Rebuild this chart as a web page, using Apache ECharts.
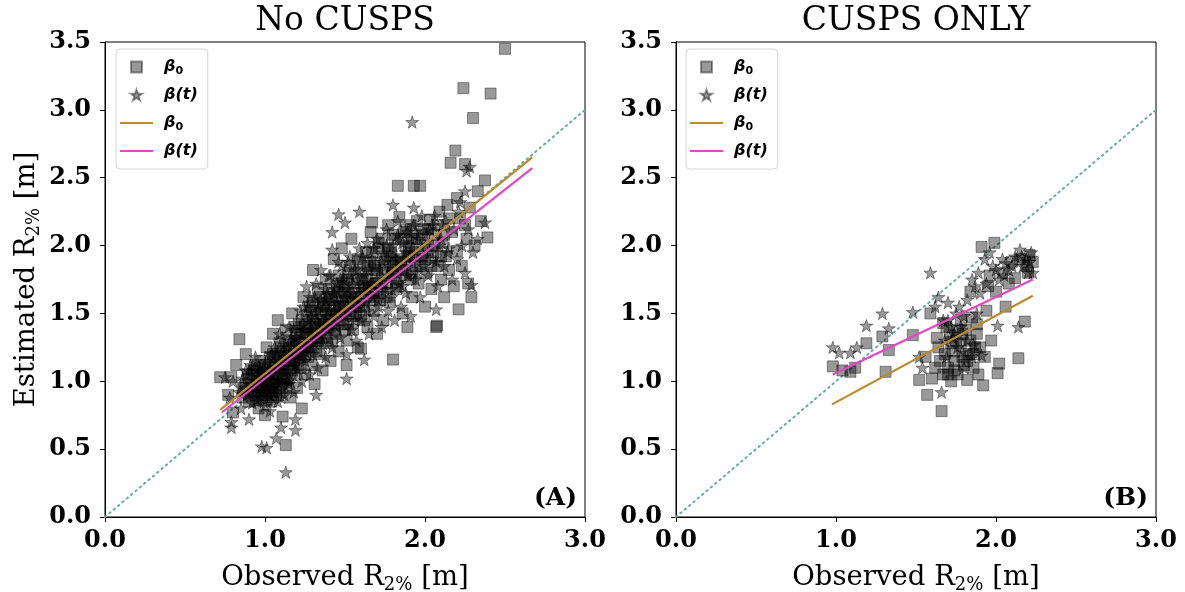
<!DOCTYPE html>
<html>
<head>
<meta charset="utf-8">
<script src="https://cdn.jsdelivr.net/npm/echarts@6/dist/echarts.min.js"></script>
<style>
  html, body { margin: 0; padding: 0; background: #fff; }
  #chart { width: 1185px; height: 592px; }
</style>
</head>
<body>
<div id="chart"></div>
<script>
// ---- Panel A (no cusps): observed vs estimated R2% [m] ----
const noCuspsBeta0 = [
  [0.72,1.03],[0.79,1.03],[0.84,1.31],[0.80,0.77],[0.77,0.90],[0.82,1.12],[0.86,0.95],[0.88,1.20],[0.90,0.85],[0.92,1.05],
  [0.93,0.92],[0.95,1.00],[0.96,0.80],[0.97,1.15],[0.98,0.88],[1.00,1.02],[1.00,0.75],[1.01,1.25],[1.02,0.95],[1.03,1.10],
  [1.04,0.85],[1.05,1.35],[1.05,0.98],[1.06,1.18],[1.07,0.90],[1.08,1.05],[1.08,1.45],[1.09,1.28],[1.10,0.98],[1.11,0.74],
  [1.12,1.15],[1.13,0.53],[1.13,1.38],[1.14,1.02],[1.15,1.22],[1.16,0.88],[1.17,1.50],[1.18,1.10],[1.19,1.30],[1.20,0.95],
  [1.21,1.42],[1.22,1.18],[1.23,0.80],[1.24,1.62],[1.25,1.05],[1.26,1.35],[1.27,1.25],[1.28,1.55],[1.29,1.12],[1.30,1.45],
  [1.30,1.82],[1.31,0.98],[1.32,1.30],[1.33,1.68],[1.34,1.20],[1.35,1.50],[1.36,1.08],[1.37,1.40],[1.38,1.75],[1.39,1.28],
  [1.40,1.60],[1.41,1.15],[1.42,1.45],[1.43,1.90],[1.44,1.35],[1.45,1.70],[1.46,1.22],[1.47,1.55],[1.48,1.98],[1.49,1.42],
  [1.50,1.65],[1.51,1.30],[1.51,1.12],[1.52,1.80],[1.53,1.50],[1.54,2.05],[1.55,1.38],[1.56,1.72],[1.57,1.58],[1.58,1.25],
  [1.59,1.88],[1.60,1.24],[1.60,1.48],[1.62,1.70],[1.63,1.95],[1.64,1.40],[1.65,1.60],[1.66,2.10],[1.67,2.17],[1.68,1.52],
  [1.69,1.82],[1.70,1.35],[1.71,1.98],[1.72,1.65],[1.73,2.05],[1.74,1.45],[1.75,1.88],[1.76,1.72],[1.77,2.15],[1.78,1.58],
  [1.79,1.95],[1.80,1.16],[1.80,1.80],[1.81,2.05],[1.82,1.68],[1.83,2.44],[1.84,2.21],[1.85,1.90],[1.86,1.50],[1.87,2.10],
  [1.88,1.78],[1.89,1.40],[1.90,1.98],[1.91,2.15],[1.92,1.62],[1.93,2.44],[1.94,1.85],[1.95,2.05],[1.96,1.72],[1.97,2.44],
  [1.98,1.92],[1.99,2.12],[2.00,1.55],[2.01,1.80],[2.02,2.00],[2.03,2.19],[2.04,1.68],[2.05,1.95],[2.06,2.08],[2.07,1.40],
  [2.075,1.41],[2.08,1.85],[2.09,2.25],[2.10,1.75],[2.11,2.02],[2.12,1.62],[2.13,1.92],[2.14,2.30],[2.15,1.82],[2.16,2.61],
  [2.17,2.10],[2.18,1.70],[2.19,2.70],[2.20,1.96],[2.21,1.53],[2.22,2.20],[2.23,1.85],[2.24,3.16],[2.25,2.60],[2.26,2.05],
  [2.27,1.72],[2.28,2.28],[2.29,1.62],[2.30,2.94],[2.31,2.00],[2.33,2.40],[2.375,2.48],[2.39,2.06],[2.41,3.12],[2.50,3.45],
  [2.20,2.35],[2.25,2.15],[2.35,2.18],
  [0.95,1.10],[1.00,0.90],[1.05,1.08],[1.10,1.12],[1.15,1.15],[1.20,1.20],[1.25,1.28],[1.30,1.32],[1.35,1.38],[1.40,1.42],
  [1.45,1.50],[1.50,1.52],[1.55,1.58],[1.60,1.62],[1.65,1.70],[1.70,1.72],[1.75,1.80],[1.80,1.85],[1.85,1.88],[1.90,1.92],
  [0.98,1.00],[1.03,0.98],[1.08,1.18],[1.12,1.02],[1.18,1.28],[1.22,1.10],[1.28,1.40],[1.32,1.22],[1.38,1.52],[1.42,1.30],
  [1.48,1.62],[1.52,1.42],[1.58,1.75],[1.62,1.55],[1.68,1.85],[1.72,1.60],[1.78,1.92],[1.82,1.75],[1.88,2.00],[1.92,1.80],
  [0.86,0.88],[0.88,0.98],[0.90,1.02],[0.91,0.90],[0.93,1.08],[0.94,0.86],[0.96,0.96],[0.97,1.04],[0.99,0.93],[1.00,1.12],
  [1.01,0.86],[1.02,1.05],[1.04,0.95],[1.05,1.20],[1.06,1.00],[1.07,1.14],[1.09,0.92],[1.10,1.25],[1.11,1.06],[1.13,0.96],
  [1.14,1.18],[1.15,1.30],[1.17,1.08],[1.18,1.20],[1.19,1.40],[1.21,1.12],[1.22,1.30],[1.23,1.45],[1.25,1.20],[1.26,1.48],
  [1.27,1.36],[1.29,1.25],[1.30,1.58],[1.31,1.40],[1.33,1.30],[1.34,1.62],[1.35,1.45],[1.37,1.55],[1.38,1.32],[1.40,1.68],
  [1.41,1.50],[1.43,1.38],[1.44,1.60],[1.46,1.78],[1.47,1.45],[1.49,1.70],[1.50,1.38],[1.52,1.60],[1.53,1.85],[1.55,1.48],
  [1.56,1.65],[1.58,1.90],[1.59,1.55],[1.61,1.75],[1.62,1.45],[1.64,1.85],[1.65,1.68],[1.67,1.95],[1.68,1.62],[1.70,1.80],
  [1.71,2.02],[1.73,1.70],[1.74,1.90],[1.76,1.62],[1.77,1.98],[1.79,1.78],[1.80,2.08],[1.82,1.88],[1.83,1.70],[1.85,2.05],
  [1.86,1.82],[1.88,2.12],[1.89,1.92],[1.91,1.75],[1.92,2.05],[1.94,1.95],[1.95,2.18],[1.97,1.85],[1.98,2.08],[2.00,1.90],
  [2.02,2.12],[2.04,1.85],[2.06,2.00],[2.08,2.15],[2.10,1.92],[2.12,2.08],[2.15,2.20],
  [0.87,0.93],[0.89,1.05],[0.92,0.96],[0.94,1.12],[0.96,0.90],[0.99,1.06],[1.01,0.98],[1.03,1.18],[1.05,0.88],[1.07,1.02],
  [1.09,1.10],[1.11,0.95],[1.13,1.24],[1.16,1.06],[1.18,1.15],[1.20,1.35],[1.23,1.24],[1.25,1.40],[1.27,1.18],[1.29,1.52],
  [1.32,1.42],[1.34,1.32],[1.36,1.58],[1.39,1.40],[1.41,1.62],[1.44,1.48],[1.46,1.66],[1.49,1.55],[1.51,1.75],[1.54,1.62],
  [1.57,1.50],[1.60,1.80],[1.63,1.65],[1.66,1.88],[1.69,1.72]
];
const noCuspsBetaT = [
  [1.13,0.33],[0.98,0.52],[1.01,0.51],[1.07,0.58],[1.19,0.72],[1.19,0.64],[1.10,0.66],[0.79,0.66],[0.79,0.70],[1.32,0.90],
  [1.51,1.02],[1.62,1.16],[1.92,2.91],[1.46,2.23],[1.42,2.10],[1.42,1.97],[1.50,2.17],[1.59,2.25],[1.80,2.30],[1.93,2.28],
  [2.375,2.17],[2.29,1.71],[2.07,1.53],[2.25,2.40],[2.26,2.55],[2.28,2.58],[2.22,2.32],
  [0.75,1.03],[0.80,1.00],[0.78,0.88],[0.85,0.80],[0.88,1.08],[0.90,0.72],[0.92,0.98],[0.94,1.18],[0.95,0.85],[0.97,0.95],
  [0.99,1.10],[1.00,0.82],[1.02,1.02],[1.03,0.78],[1.04,1.20],[1.06,0.92],[1.07,1.10],[1.08,0.85],[1.09,1.35],[1.10,1.00],
  [1.11,1.22],[1.12,0.90],[1.14,1.08],[1.15,1.40],[1.16,1.00],[1.17,1.18],[1.18,0.92],[1.19,1.32],[1.20,1.05],
  [1.21,1.25],[1.22,1.52],[1.23,1.00],[1.24,1.38],[1.25,1.15],[1.26,1.70],[1.27,1.30],[1.28,1.05],[1.29,1.48],[1.30,1.20],
  [1.31,1.62],[1.32,1.35],[1.33,1.10],[1.34,1.55],[1.35,1.82],[1.36,1.28],[1.37,1.45],[1.38,1.18],[1.39,1.65],[1.40,1.38],
  [1.41,1.78],[1.42,1.25],[1.43,1.52],[1.44,1.68],[1.45,1.40],[1.46,1.88],[1.47,1.32],[1.48,1.58],[1.49,1.75],[1.50,1.48],
  [1.51,1.20],[1.52,1.68],[1.53,1.92],[1.54,1.38],[1.55,1.55],[1.56,1.82],[1.57,1.30],[1.58,1.65],[1.59,1.98],[1.60,1.45],
  [1.62,1.78],[1.63,1.58],[1.64,2.02],[1.65,1.35],[1.66,1.72],[1.67,1.90],[1.68,1.48],[1.69,1.65],[1.70,2.05],[1.71,1.55],
  [1.72,1.82],[1.73,1.40],[1.74,1.95],[1.75,1.68],[1.76,2.12],[1.77,1.52],[1.78,1.85],[1.79,1.62],[1.80,2.00],[1.81,1.45],
  [1.82,1.90],[1.83,2.18],[1.84,1.72],[1.85,1.55],[1.86,2.02],[1.87,1.82],[1.88,1.65],[1.89,2.10],[1.90,1.88],[1.91,1.48],
  [1.92,1.98],[1.93,2.15],[1.94,1.75],[1.95,1.92],[1.96,2.05],[1.97,1.62],[1.98,2.22],[1.99,1.85],[2.00,2.00],[2.02,1.78],
  [2.03,2.12],[2.05,1.90],[2.06,2.22],[2.08,1.70],[2.10,2.05],[2.12,1.85],[2.13,2.18],[2.15,1.98],[2.17,1.75],[2.18,2.12],
  [2.20,1.90],[2.21,2.25],[2.23,2.00],[2.25,1.80],[2.27,2.12],[2.30,1.95],[2.33,2.05],
  [0.84,0.92],[0.86,1.02],[0.89,0.90],[0.91,1.12],[0.92,0.84],[0.94,1.00],[0.96,1.10],[0.97,0.88],[0.98,1.05],[1.00,0.96],
  [1.01,1.15],[1.03,0.90],[1.04,1.06],[1.05,0.95],[1.06,1.25],[1.08,1.00],[1.09,1.15],[1.10,0.88],[1.11,1.32],[1.12,1.08],
  [1.14,1.25],[1.15,0.98],[1.16,1.20],[1.18,1.38],[1.19,1.12],[1.20,1.28],[1.22,1.40],[1.23,1.18],[1.24,1.55],[1.26,1.25],
  [1.27,1.45],[1.28,1.62],[1.30,1.35],[1.31,1.50],[1.32,1.72],[1.34,1.42],[1.35,1.60],[1.36,1.35],[1.38,1.68],[1.39,1.48],
  [1.40,1.78],[1.42,1.58],[1.43,1.42],[1.45,1.72],[1.46,1.55],[1.48,1.85],[1.49,1.50],[1.50,1.70],[1.52,1.52],[1.53,1.78],
  [1.55,1.65],[1.56,1.45],[1.58,1.82],[1.59,1.60],[1.61,1.92],[1.62,1.68],[1.64,1.52],[1.65,1.82],[1.67,1.62],[1.68,1.98],
  [1.70,1.75],[1.71,1.60],[1.73,1.88],[1.74,1.72],[1.76,2.00],[1.77,1.78],[1.79,1.68],[1.80,1.92],[1.82,1.80],[1.83,2.08],
  [1.85,1.85],[1.86,1.70],[1.88,1.95],[1.89,1.78],[1.91,2.05],[1.92,1.88],[1.94,2.10],[1.95,1.80],[1.97,2.00],[1.99,1.92],
  [2.01,2.08],[2.03,1.95],[2.05,2.15],[2.07,1.88],[2.09,2.00],[2.11,2.15],[2.14,1.95],
  [0.88,0.95],[0.90,1.08],[0.93,0.92],[0.95,1.05],[0.98,0.92],[1.00,1.08],[1.02,0.92],[1.04,1.12],[1.06,1.05],[1.08,1.22],
  [1.10,1.08],[1.12,1.18],[1.14,1.00],[1.16,1.30],[1.18,1.15],[1.21,1.20],[1.23,1.35],[1.25,1.22],[1.27,1.55],[1.29,1.38],
  [1.31,1.28],[1.33,1.52],[1.36,1.45],[1.38,1.60],[1.40,1.52],[1.43,1.65],[1.45,1.58],[1.47,1.75],[1.50,1.62],[1.52,1.88],
  [1.55,1.72],[1.58,1.55],[1.61,1.70],[1.64,1.78],[1.67,1.72]
];
// Linear fits (endpoints of the fitted lines)
const noCuspsFitBeta0 = [[0.72,0.79],[2.67,2.65]];
const noCuspsFitBetaT = [[0.73,0.77],[2.67,2.57]];

// ---- Panel B (cusps only) ----
const cuspsBeta0 = [
  [0.98,1.11],[1.04,1.08],[1.09,1.07],[1.12,1.10],[1.19,1.28],[1.29,1.33],[1.31,1.07],[1.33,1.23],[1.48,1.34],[1.52,1.01],
  [1.56,1.18],[1.57,0.90],[1.59,1.50],[1.62,1.10],[1.64,1.25],[1.66,0.78],[1.67,1.43],[1.69,1.40],[1.70,1.10],[1.71,1.34],
  [1.72,1.00],[1.74,1.15],[1.75,1.30],[1.76,1.05],[1.78,1.45],[1.78,1.28],[1.79,1.18],[1.80,1.12],[1.82,1.01],[1.83,1.20],
  [1.84,1.66],[1.85,1.47],[1.86,1.10],[1.87,1.25],[1.88,1.35],[1.89,1.05],[1.91,1.99],[1.92,0.97],[1.93,1.18],[1.94,1.52],
  [1.95,1.70],[1.97,1.30],[1.99,2.02],[2.00,1.66],[2.01,1.06],[2.02,1.13],[2.04,1.80],[2.06,1.55],[2.08,1.72],[2.12,1.76],
  [2.14,1.17],[2.15,1.90],[2.18,1.44],[2.19,1.85],[2.21,1.93],[2.23,1.88],[1.60,1.02],[1.65,1.15],[1.73,1.22],[1.81,1.38],
  [1.68,1.20],[1.72,1.28],[1.76,1.38],[1.79,1.35],[1.84,1.30],[1.86,1.20],[1.70,1.05],[1.74,1.08],[1.82,1.15],[1.88,1.42],
  [1.63,1.32],[1.67,1.05],[1.90,1.25],[2.10,1.88],[2.20,1.80],[1.96,1.78]
];
const cuspsBetaT = [
  [0.98,1.25],[1.02,1.21],[1.09,1.21],[1.13,1.25],[1.19,1.41],[1.29,1.50],[1.33,1.39],[1.48,1.51],[1.52,1.18],[1.54,1.10],
  [1.59,1.80],[1.62,1.55],[1.64,1.62],[1.66,0.92],[1.67,1.45],[1.70,1.58],[1.72,1.40],[1.74,1.35],[1.75,1.50],[1.79,1.22],
  [1.80,1.10],[1.82,1.60],[1.85,1.75],[1.86,1.27],[1.87,1.70],[1.89,1.80],[1.91,1.19],[1.93,1.90],[1.96,1.95],[1.98,1.85],
  [2.01,1.41],[2.02,1.75],[2.04,1.90],[2.06,1.87],[2.08,1.82],[2.12,1.92],[2.14,1.40],[2.15,1.97],[2.17,1.85],[2.19,1.90],
  [2.20,1.80],[2.23,1.80],[2.22,1.95],[1.68,1.30],[1.77,1.55],
  [1.70,1.45],[1.73,1.32],[1.76,1.25],[1.78,1.40],[1.82,1.30],[1.85,1.18],[1.88,1.50],[1.90,1.65],[1.94,1.72],[2.00,1.82],
  [2.10,1.85],[2.16,1.92],[2.21,1.88],[1.69,1.18],[1.80,1.48],[2.05,1.78]
];
const cuspsFitBeta0 = [[0.975,0.83],[2.23,1.63]];
const cuspsFitBetaT = [[0.98,1.05],[2.23,1.75]];

// 1:1 reference line
const oneToOne = [[0, 0], [3, 3]];

const panelTitles = ['No CUSPS', 'CUSPS ONLY'];
const panelTags = ['(A)', '(B)'];
const xTicks = { min: 0, max: 3, interval: 1 };
const yTicks = { min: 0, max: 3.5, interval: 0.5 };

const GOLD = '#bb8a2c';
const PINK = '#e347c4';
const DOT = '#6aaba6';
const STAR = 'path://M50,2 L61.5,36 L97,36 L68.5,57.5 L79,92 L50,71 L21,92 L31.5,57.5 L3,36 L38.5,36 Z';
const SQUARE = 'path://M0,0 L10,0 L10,10 L0,10 Z';
const DASH = 'path://M0,0 L33,0 L33,2.2 L0,2.2 Z';
const SERIF = '"DejaVu Serif", serif';
const SANS = '"DejaVu Sans", sans-serif';

const grids = [
  { left: 105, top: 42, width: 480, height: 475 },
  { left: 676, top: 42, width: 480, height: 475 }
];

const legendLabels = {
  sq: '{b|β}{s|0}',
  st: '{b|β(t)}',
  l0: '{b|β}{s|0}',
  lt: '{b|β(t)}'
};

function axisCommon(t, margin) {
  return {
    type: 'value', min: t.min, max: t.max, interval: t.interval,
    axisLine: { show: true, onZero: false, lineStyle: { color: '#000', width: 1 } },
    axisTick: { show: true, inside: false, length: 5, lineStyle: { color: '#000', width: 1 } },
    splitLine: { show: false },
    axisLabel: {
      margin, color: '#000', fontFamily: SERIF, fontWeight: 'bold', fontSize: 24,
      formatter: v => v.toFixed(1)
    },
    nameLocation: 'middle',
    nameTextStyle: {
      fontFamily: SERIF, fontSize: 27.5, color: '#000', lineHeight: 32,
      rich: { s: { fontFamily: SERIF, fontSize: 18, color: '#000', lineHeight: 18, padding: [14, 0, 0, 0] } }
    }
  };
}

const xAxes = [0, 1].map(i => Object.assign(axisCommon(xTicks, 12), {
  gridIndex: i, name: 'Observed R{s|2%} [m]', nameGap: 45
}));
const yAxes = [0, 1].map(i => Object.assign(axisCommon(yTicks, 14), {
  gridIndex: i, name: i === 0 ? 'Estimated R{s|2%} [m]' : '', nameGap: 62
}));

function scatter(name, data, idx, symbol, size) {
  return {
    type: 'scatter', name, data, xAxisIndex: idx, yAxisIndex: idx,
    symbol, symbolSize: size, symbolKeepAspect: true, z: 3,
    itemStyle: { color: 'rgba(0,0,0,0.5)', borderColor: 'rgba(0,0,0,0.5)', borderWidth: 1 },
    emphasis: { disabled: true }
  };
}
function fitLine(name, data, idx, color) {
  return {
    type: 'line', name, data, xAxisIndex: idx, yAxisIndex: idx,
    symbol: 'none', z: 5, lineStyle: { color, width: 2.2 }, itemStyle: { color },
    emphasis: { disabled: true }
  };
}
function refLine(idx) {
  return {
    type: 'line', name: 'ref', data: oneToOne, xAxisIndex: idx, yAxisIndex: idx,
    symbol: 'none', z: 2, silent: true,
    lineStyle: { color: DOT, width: 2, type: [1.5, 4.2], cap: 'round' }
  };
}

const series = [
  refLine(0),
  scatter('st', noCuspsBetaT, 0, STAR, 13),
  scatter('sq', noCuspsBeta0, 0, 'rect', 11),
  fitLine('l0', noCuspsFitBeta0, 0, GOLD),
  fitLine('lt', noCuspsFitBetaT, 0, PINK),
  refLine(1),
  scatter('st', cuspsBetaT, 1, STAR, 13),
  scatter('sq', cuspsBeta0, 1, 'rect', 11),
  fitLine('l0', cuspsFitBeta0, 1, GOLD),
  fitLine('lt', cuspsFitBetaT, 1, PINK)
];

function legendAt(left) {
  return {
    orient: 'vertical', left, top: 49,
    padding: [8, 10, 8, 4], itemGap: 8, itemWidth: 33, itemHeight: 11,
    backgroundColor: 'rgba(255,255,255,0.8)', borderColor: '#d6d6d6', borderWidth: 1, borderRadius: 4,
    selectedMode: false, symbolKeepAspect: true,
    data: [
      { name: 'sq', icon: SQUARE },
      { name: 'st', icon: STAR },
      { name: 'l0', icon: DASH, itemStyle: { color: GOLD, borderWidth: 0 } },
      { name: 'lt', icon: DASH, itemStyle: { color: PINK, borderWidth: 0 } }
    ],
    formatter: n => legendLabels[n],
    textStyle: {
      padding: [0, 0, 0, 6], lineHeight: 20,
      rich: {
        b: { fontFamily: SANS, fontWeight: 'bold', fontStyle: 'italic', fontSize: 16, color: '#000', lineHeight: 20 },
        s: { fontFamily: SANS, fontWeight: 'bold', fontSize: 11, color: '#000', lineHeight: 11, padding: [9, 0, 0, 0] }
      }
    }
  };
}

const option = {
  animation: false,
  backgroundColor: '#fff',
  title: panelTitles.map((t, i) => ({
    text: t, left: grids[i].left + grids[i].width / 2 - 5, top: 0, textAlign: 'center',
    textStyle: { fontFamily: SERIF, fontWeight: 'normal', fontSize: 33, color: '#000' }
  })),
  grid: grids.map(g => Object.assign({
    show: true, borderColor: '#000', borderWidth: 1, backgroundColor: 'transparent',
    containLabel: false, outerBoundsMode: 'none'
  }, g)),
  xAxis: xAxes,
  yAxis: yAxes,
  legend: [legendAt(116), legendAt(686)],
  graphic: panelTags.map((t, i) => ({
    type: 'text', right: 1185 - (grids[i].left + grids[i].width - 8), top: 486,
    style: { text: t, font: 'bold 25px ' + SERIF, fill: '#000' }
  })),
  series
};

echarts.init(document.getElementById('chart')).setOption(option);
</script>
</body>
</html>
